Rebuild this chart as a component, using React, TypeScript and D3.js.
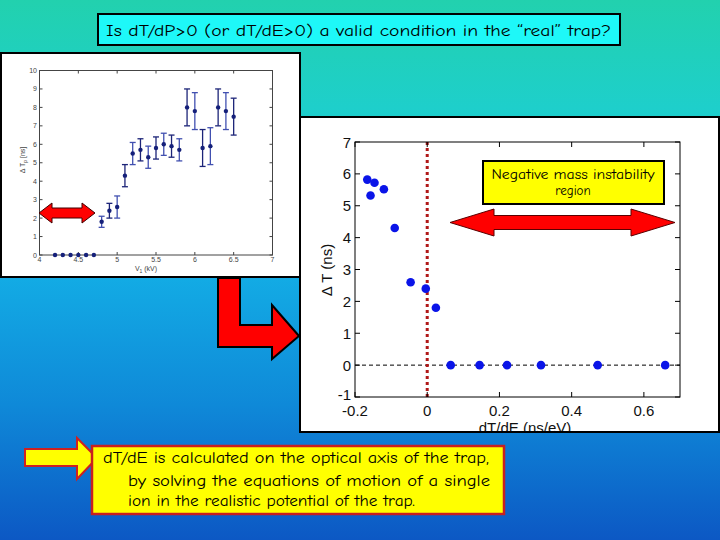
import React from "react";
import * as d3 from "d3";

// ---------- DATA ----------
// Left (measured) chart: V1 (kV) vs ΔTp (ns), with error bars
const leftV = [4.2, 4.3, 4.4, 4.5, 4.6, 4.7, 4.8, 4.9, 5.0, 5.1, 5.2, 5.3, 5.4, 5.5, 5.6, 5.7, 5.8, 5.9, 6.0, 6.1, 6.2, 6.3, 6.4, 6.5];
const leftT = [0, 0, 0, 0, 0, 0, 1.8, 2.4, 2.6, 4.3, 5.5, 5.7, 5.3, 5.8, 6.0, 5.9, 5.7, 8.0, 7.8, 5.8, 5.9, 8.0, 7.8, 7.5];
const leftErr = [0, 0, 0, 0, 0, 0, 0.3, 0.4, 0.6, 0.6, 0.6, 0.6, 0.6, 0.6, 0.6, 0.6, 0.6, 1.0, 1.0, 1.0, 1.0, 1.0, 1.0, 1.0];
const leftXTicks = [4, 4.5, 5, 5.5, 6, 6.5, 7];
const leftYTicks = [0, 1, 2, 3, 4, 5, 6, 7, 8, 9, 10];

// Right (simulated) chart: dT/dE (ns/eV) vs ΔT (ns)
const rightX = [-0.166, -0.146, -0.157, -0.12, -0.09, -0.046, -0.004, 0.024, 0.065, 0.145, 0.221, 0.315, 0.472, 0.659];
const rightY = [5.82, 5.72, 5.32, 5.52, 4.3, 2.6, 2.4, 1.8, 0, 0, 0, 0, 0, 0];
const rightXTicks = [-0.2, 0, 0.2, 0.4, 0.6];
const rightXTickLabels = ["-0.2", "0", "0.2", "0.4", "0.6"];
const rightYTicks = [-1, 0, 1, 2, 3, 4, 5, 6, 7];

const titleText = "Is dT/dP>0 (or dT/dE>0) a valid condition in the \u201creal\u201d trap?";
const noteLines = [
  "dT/dE is calculated on the optical axis of the trap,",
  "by solving the equations of motion of a single",
  "ion in the realistic potential of the trap.",
];
const regionLines = ["Negative mass instability", "region"];

const comic = "'Comic Sans MS', 'Comic Neue', 'DejaVu Sans', sans-serif";
const arial = "'Liberation Sans', Arial, sans-serif";

function doubleArrow(x1: number, x2: number, cy: number, hl: number, hh: number, sh: number) {
  const p = d3.path();
  p.moveTo(x1, cy);
  p.lineTo(x1 + hl, cy - hh);
  p.lineTo(x1 + hl, cy - sh);
  p.lineTo(x2 - hl, cy - sh);
  p.lineTo(x2 - hl, cy - hh);
  p.lineTo(x2, cy);
  p.lineTo(x2 - hl, cy + hh);
  p.lineTo(x2 - hl, cy + sh);
  p.lineTo(x1 + hl, cy + sh);
  p.lineTo(x1 + hl, cy + hh);
  p.closePath();
  return p.toString();
}

export default function App() {
  // left chart scales
  const lx = d3.scaleLinear().domain([4, 7]).range([39.5, 272.5]);
  const ly = d3.scaleLinear().domain([0, 10]).range([255, 70.5]);
  // right chart scales
  const rx = d3.scaleLinear().domain([-0.2, 0.7]).range([355, 680]);
  const ry = d3.scaleLinear().domain([-1, 7]).range([397, 142]);

  const L = { l: 39.5, r: 272.5, t: 70.5, b: 255 };
  const R = { l: 355, r: 680, t: 142, b: 397 };

  return (
    <svg width={720} height={540} style={{ position: "absolute", left: 0, top: 0 }}>
      <defs>
        <linearGradient id="bg" x1="0" y1="0" x2="0" y2="1">
          <stop offset="0" stopColor="#22d1ae" />
          <stop offset="0.2" stopColor="#1ecfcb" />
          <stop offset="0.5" stopColor="#13ade5" />
          <stop offset="0.75" stopColor="#0f89d8" />
          <stop offset="1" stopColor="#0c58c4" />
        </linearGradient>
        <clipPath id="rclip">
          <rect x={301} y={118} width={418} height={313} />
        </clipPath>
      </defs>
      <rect x={0} y={0} width={720} height={540} fill="url(#bg)" />

      {/* Title */}
      <rect x={98} y={14} width={522} height={31} fill="#1ef8f8" stroke="#000" strokeWidth={2} />
      <text x={106} y={36} fontFamily={comic} fontSize={16} fill="#000" textLength={505} lengthAdjust="spacingAndGlyphs">
        {titleText}
      </text>

      {/* Left chart image */}
      <rect x={1} y={53} width={299} height={224} fill="#fff" stroke="#000" strokeWidth={2} />
      <g>
        <rect x={L.l} y={L.t} width={L.r - L.l} height={L.b - L.t} fill="none" stroke="#444" strokeWidth={1} />
        {leftXTicks.map((t) => (
          <g key={"lxt" + t}>
            <line x1={lx(t)} x2={lx(t)} y1={L.b} y2={L.b - 3} stroke="#444" />
            <line x1={lx(t)} x2={lx(t)} y1={L.t} y2={L.t + 3} stroke="#444" />
            <text x={lx(t)} y={262} fontSize={7} fontFamily={arial} fill="#444" textAnchor="middle">
              {t}
            </text>
          </g>
        ))}
        {leftYTicks.map((t) => (
          <g key={"lyt" + t}>
            <line x1={L.l} x2={L.l + 3} y1={ly(t)} y2={ly(t)} stroke="#444" />
            <line x1={L.r} x2={L.r - 3} y1={ly(t)} y2={ly(t)} stroke="#444" />
            <text x={37} y={ly(t) + 2.5} fontSize={7} fontFamily={arial} fill="#444" textAnchor="end">
              {t}
            </text>
          </g>
        ))}
        <text x={146} y={271} fontSize={7} fontFamily={arial} fill="#444" textAnchor="middle">
          V<tspan fontSize={5} dy={2}>1</tspan>
          <tspan dy={-2}> (kV)</tspan>
        </text>
        <text transform="translate(25,160) rotate(-90)" fontSize={7} fontFamily={arial} fill="#444" textAnchor="middle">
          {"\u0394 T"}
          <tspan fontSize={5} dy={2}>p</tspan>
          <tspan dy={-2}> [ns]</tspan>
        </text>
        {leftV.map((v, i) =>
          leftErr[i] > 0 ? (
            <g key={"eb" + i} stroke={i % 2 ? "#1c2478" : "#4150b0"} strokeWidth={1.3}>
              <line x1={lx(v)} x2={lx(v)} y1={ly(leftT[i] - leftErr[i])} y2={ly(leftT[i] + leftErr[i])} />
              <line x1={lx(v) - 3} x2={lx(v) + 3} y1={ly(leftT[i] - leftErr[i])} y2={ly(leftT[i] - leftErr[i])} />
              <line x1={lx(v) - 3} x2={lx(v) + 3} y1={ly(leftT[i] + leftErr[i])} y2={ly(leftT[i] + leftErr[i])} />
            </g>
          ) : null
        )}
        {leftV.map((v, i) => (
          <circle key={"lp" + i} cx={lx(v)} cy={ly(leftT[i])} r={2.2} fill="#15207a" />
        ))}
        <path d={doubleArrow(39, 95, 213, 13, 10, 5)} fill="#ff0000" stroke="#400000" strokeWidth={1} />
      </g>

      {/* L-shaped arrow */}
      <path
        d="M218,278 L240,278 L240,325 L272,325 L272,305 L299,336 L272,359 L272,347 L218,347 Z"
        fill="#ff0000"
        stroke="#000"
        strokeWidth={2}
      />

      {/* Right chart */}
      <rect x={300} y={117} width={419} height={315} fill="#fff" stroke="#000" strokeWidth={2} />
      <g clipPath="url(#rclip)">
        <line x1={R.l} x2={R.r} y1={ry(0)} y2={ry(0)} stroke="#000" strokeWidth={1} strokeDasharray="4,3" />
        <line x1={rx(0)} x2={rx(0)} y1={R.t} y2={R.b} stroke="#b01818" strokeWidth={3} strokeDasharray="3,3" />
        <rect x={R.l} y={R.t} width={R.r - R.l} height={R.b - R.t} fill="none" stroke="#000" strokeWidth={1} />
        {rightXTicks.map((t, i) => (
          <g key={"rxt" + t}>
            <line x1={rx(t)} x2={rx(t)} y1={R.b} y2={R.b - 5} stroke="#000" />
            <line x1={rx(t)} x2={rx(t)} y1={R.t} y2={R.t + 5} stroke="#000" />
            <text x={rx(t)} y={416} fontSize={15} fontFamily={arial} fill="#111" textAnchor="middle">
              {rightXTickLabels[i]}
            </text>
          </g>
        ))}
        {rightYTicks.map((t) => (
          <g key={"ryt" + t}>
            <line x1={R.l} x2={R.l + 5} y1={ry(t)} y2={ry(t)} stroke="#000" />
            <line x1={R.r} x2={R.r - 5} y1={ry(t)} y2={ry(t)} stroke="#000" />
            <text x={351} y={ry(t) + (t === -1 ? 3 : 5.5)} fontSize={15} fontFamily={arial} fill="#111" textAnchor="end">
              {String(t)}
            </text>
          </g>
        ))}
        <text transform="translate(332,270) rotate(-90)" fontSize={15} fontFamily={arial} fill="#111" textAnchor="middle">
          {"\u0394 T (ns)"}
        </text>
        <text x={525} y={433} fontSize={15} fontFamily={arial} fill="#111" textAnchor="middle">
          dT/dE (ns/eV)
        </text>
        {rightX.map((x, i) => (
          <circle key={"rp" + i} cx={rx(x)} cy={ry(rightY[i])} r={4.3} fill="#0a14e8" />
        ))}
        <rect x={483} y={161} width={181} height={43} fill="#ffff00" stroke="#000" strokeWidth={2} />
        <text x={573} y={179} fontSize={13} fontFamily={comic} textAnchor="middle" textLength={163} lengthAdjust="spacingAndGlyphs">
          {regionLines[0]}
        </text>
        <text x={573} y={195} fontSize={13} fontFamily={comic} textAnchor="middle">
          {regionLines[1]}
        </text>
        <path d={doubleArrow(450, 675, 222.5, 44, 13.5, 7)} fill="#ff0000" stroke="#5a0000" strokeWidth={1} />
      </g>

      {/* Bottom note */}
      <path
        d="M25,449 L77,449 L77,438 L97,458 L77,479 L77,466 L25,466 Z"
        fill="#ffff00"
        stroke="#d02020"
        strokeWidth={2}
      />
      <rect x={92} y={446} width={412} height={68} fill="#ffff00" stroke="#c82020" strokeWidth={2.5} />
      <text x={103} y={463} fontSize={15} fontFamily={comic} fill="#000" textLength={386} lengthAdjust="spacingAndGlyphs">
        {noteLines[0]}
      </text>
      <text x={128} y={486} fontSize={15} fontFamily={comic} fill="#000" textLength={362} lengthAdjust="spacingAndGlyphs">
        {noteLines[1]}
      </text>
      <text x={128} y={506} fontSize={15} fontFamily={comic} fill="#000" textLength={287} lengthAdjust="spacingAndGlyphs">
        {noteLines[2]}
      </text>
    </svg>
  );
}
